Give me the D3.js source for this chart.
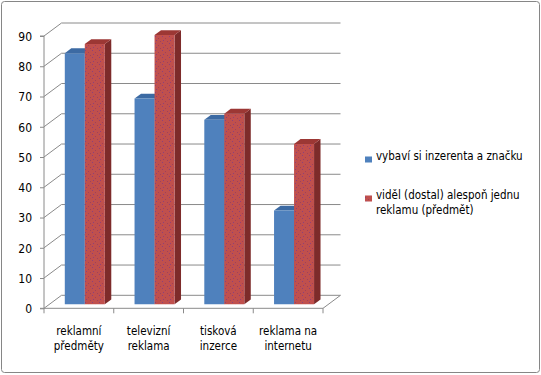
<!DOCTYPE html>
<html>
<head>
<meta charset="utf-8">
<script src="https://cdn.jsdelivr.net/npm/d3@7"></script>
<style>
  body { margin: 0; background: #fff; }
  text { font-family: "DejaVu Sans Condensed", "DejaVu Sans", sans-serif; fill: #000; }
</style>
</head>
<body>
<div id="chart"></div>
<script>
// Data
const categories = [["reklamní", "předměty"], ["televizní", "reklama"], ["tisková", "inzerce"], ["reklama na", "internetu"]];
const seriesNames = ["vybaví si inzerenta a značku", "viděl (dostal) alespoň jednu reklamu (předmět)"];
const brandValues = [83, 68, 61, 31];
const seenValues = [86, 89, 63, 53];
const yTicks = [0, 10, 20, 30, 40, 50, 60, 70, 80, 90];

const width = 541, height = 375;
const depthX = 17.5, depthY = -13;   // full floor depth
const barFront = 0.31, barBack = 0.68; // bar position inside the depth

const svg = d3.select("#chart").append("svg")
    .attr("width", width)
    .attr("height", height);

// chart border
svg.append("rect")
    .attr("x", 1.5).attr("y", 1.5)
    .attr("width", width - 3).attr("height", height - 4)
    .attr("rx", 3)
    .attr("fill", "#fff")
    .attr("stroke", "#868686");

// dotted fill for the red series
const defs = svg.append("defs");
const pat = defs.append("pattern")
    .attr("id", "dots")
    .attr("width", 7).attr("height", 7)
    .attr("patternUnits", "userSpaceOnUse");
pat.append("rect").attr("width", 7).attr("height", 7).attr("fill", "#c0504d");
[[1, 1], [4, 3], [2, 5], [6, 6]].forEach(([px, py], i) => {
    pat.append("rect").attr("x", px).attr("y", py).attr("width", 1).attr("height", 1)
        .attr("fill", i % 2 ? "#a0405a" : "#8e3f7a");
});

// Scales
const x = d3.scaleBand()
    .domain(d3.range(categories.length))
    .range([44, 323]);

const y = d3.scaleLinear()
    .domain([0, 90])
    .range([308.3, 36]);

// projection: value v at horizontal px, depth d (0 front, 1 back)
const P = (px, v, d) => [px + d * depthX, y(v) + d * depthY];
const poly = pts => pts.map(p => p.join(",")).join(" ");

const grid = "#8a8a8a";

// back wall gridlines
svg.append("g").selectAll("line")
    .data(yTicks)
    .join("line")
    .attr("x1", d => P(x.range()[0], d, 1)[0])
    .attr("y1", d => P(x.range()[0], d, 1)[1])
    .attr("x2", d => P(x.range()[1], d, 1)[0])
    .attr("y2", d => P(x.range()[1], d, 1)[1])
    .attr("stroke", grid);

// left wall diagonals
svg.append("g").selectAll("line")
    .data(yTicks)
    .join("line")
    .attr("x1", d => P(x.range()[0], d, 0)[0])
    .attr("y1", d => P(x.range()[0], d, 0)[1])
    .attr("x2", d => P(x.range()[0], d, 1)[0])
    .attr("y2", d => P(x.range()[0], d, 1)[1])
    .attr("stroke", grid);

// floor right edge
svg.append("line")
    .attr("x1", P(x.range()[1], 0, 0)[0]).attr("y1", P(x.range()[1], 0, 0)[1])
    .attr("x2", P(x.range()[1], 0, 1)[0]).attr("y2", P(x.range()[1], 0, 1)[1])
    .attr("stroke", grid);

// Axes
const yAxis = svg.append("g")
    .attr("transform", `translate(${x.range()[0]},0)`)
    .call(d3.axisLeft(y).tickValues(yTicks).tickSize(4).tickPadding(8).tickFormat(d3.format("d")));
yAxis.select(".domain").attr("stroke", grid).attr("d", `M-4,${y(0)}H0V${y(90)}H-4`);
yAxis.selectAll(".tick line").attr("stroke", grid);
yAxis.selectAll("text").style("font-size", "12px").attr("dy", "0.36em");

const xAxis = svg.append("g")
    .attr("transform", `translate(0,${y(0)})`)
    .call(d3.axisBottom(x).tickSize(0).tickFormat(""));
xAxis.select(".domain").attr("stroke", grid).attr("d", `M${x.range()[0]},0H${x.range()[1]}`);
xAxis.selectAll(".tick").remove();

// category ticks between groups
svg.append("g").selectAll("line")
    .data(d3.range(categories.length + 1))
    .join("line")
    .attr("x1", i => x.range()[0] + i * x.step())
    .attr("x2", i => x.range()[0] + i * x.step())
    .attr("y1", y(0)).attr("y2", y(0) + 5)
    .attr("stroke", grid);

// category labels
const labels = svg.append("g").selectAll("text")
    .data(categories)
    .join("text")
    .attr("x", (d, i) => x(i) + x.bandwidth() / 2)
    .attr("y", 335)
    .attr("text-anchor", "middle")
    .style("font-size", "11.5px");
labels.selectAll("tspan")
    .data(d => d)
    .join("tspan")
    .attr("x", function () { return this.parentNode.getAttribute("x"); })
    .attr("dy", (d, i) => i ? 15 : 0)
    .text(d => d);

// Bars
const barW = 20;
const series = [
    { values: brandValues, front: "#4f81bd", top: "#3c6aa3", side: "#2f5485" },
    { values: seenValues, front: "url(#dots)", top: "#9c3734", side: "#7d2b2a" }
];
const bars = svg.append("g");
categories.forEach((c, i) => {
    const x0 = x(i) + x.bandwidth() / 2 - barW + 0.5;
    series.forEach((s, k) => {
        const v = s.values[i];
        const l = x0 + k * barW, r = l + barW;
        const g = bars.append("g");
        // right side
        g.append("polygon")
            .attr("points", poly([P(r, 0, barFront), P(r, 0, barBack), P(r, v, barBack), P(r, v, barFront)]))
            .attr("fill", s.side);
        // top
        g.append("polygon")
            .attr("points", poly([P(l, v, barFront), P(r, v, barFront), P(r, v, barBack), P(l, v, barBack)]))
            .attr("fill", s.top);
        // front
        g.append("polygon")
            .attr("points", poly([P(l, 0, barFront), P(r, 0, barFront), P(r, v, barFront), P(l, v, barFront)]))
            .attr("fill", s.front);
    });
});

// Legend
const legend = svg.append("g");
const legendY = [159.5, 198.5];
const legendColors = ["#4f81bd", "url(#dots)"];
const legendLines = [["vybaví si inzerenta a značku"], ["viděl (dostal) alespoň jednu", "reklamu (předmět)"]];
seriesNames.forEach((name, i) => {
    legend.append("rect")
        .attr("x", 365).attr("y", legendY[i] - 3)
        .attr("width", 7).attr("height", 6)
        .attr("fill", legendColors[i]);
    const t = legend.append("text")
        .attr("x", 376).attr("y", legendY[i])
        .attr("dy", "0.36em")
        .style("font-size", "11.5px");
    legendLines[i].forEach((ln, j) => {
        t.append("tspan").attr("x", 376).attr("dy", j ? 15 : 0).text(ln);
    });
});
</script>
</body>
</html>
